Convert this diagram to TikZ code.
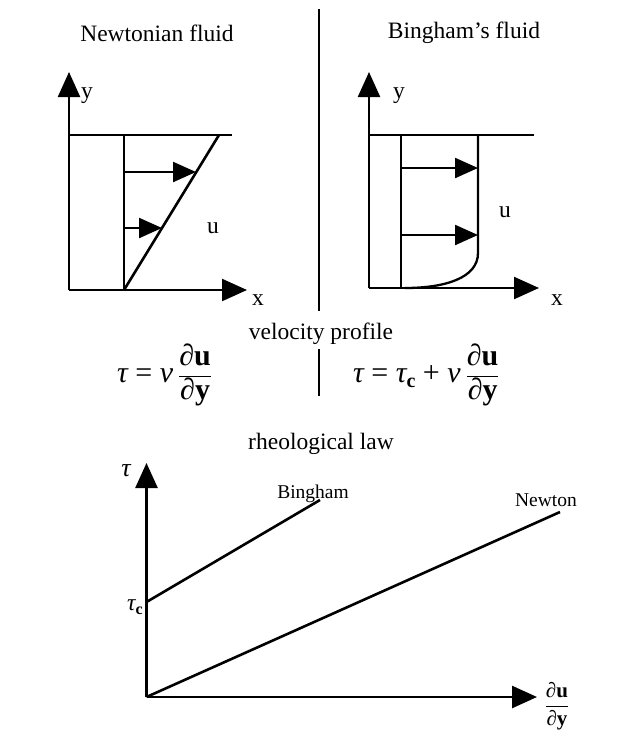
\documentclass[tikz,border=0pt]{standalone}
\usepackage{fontspec}
\setmainfont{Liberation Serif}
\usetikzlibrary{arrows.meta}
\newcommand\myfrac[2]{$\displaystyle\frac{\mbox{#1}}{\mbox{#2}}$}
\begin{document}
\begin{tikzpicture}[x=1pt,y=-1pt,
  ln/.style={line width=2.3pt},
  thk/.style={line width=2.6pt},
  bigtip/.style={-{Triangle[length=25pt,width=22pt]}},
  smalltip/.style={-{Triangle[length=23pt,width=20pt]}},
  lbl/.style={font=\fontsize{23.5}{28}\selectfont, inner sep=0pt},
  small/.style={font=\fontsize{19.5}{23}\selectfont, inner sep=0pt},
  eq/.style={font=\fontsize{30}{34}\selectfont, inner sep=0pt, anchor=base west}]
\useasboundingbox (0,0) rectangle (624,742);

% separator
\coordinate (s1) at (319,9);
\coordinate (s2) at (319,311);
\coordinate (s3) at (319,349);
\coordinate (s4) at (319,396);
\draw[ln] (s1) -- (s2);
\draw[ln] (s3) -- (s4);

% titles
\node[lbl] (tN) at (157,33) {Newtonian fluid};
\node[lbl] (tB) at (464,33) {Bingham's fluid};

% ---- Newtonian panel
\coordinate (NO) at (69,290);
\coordinate (NYt) at (69,72);
\coordinate (NXt) at (247,290);
\coordinate (NTl) at (69,135);
\coordinate (NTr) at (232,135);
\coordinate (NIb) at (124,290);
\coordinate (NIt) at (124,135);
\coordinate (NDt) at (219,135);
\coordinate (NA1s) at (124,172);
\coordinate (NA1e) at (196,172);
\coordinate (NA2s) at (124,228);
\coordinate (NA2e) at (162,228);
\draw[ln,bigtip] (NO) -- (NYt);
\draw[ln,bigtip] (NO) -- (NXt);
\draw[ln] (NTl) -- (NTr);
\draw[ln] (NIb) -- (NIt);
\draw[thk] (NIb) -- (NDt);
\draw[ln,smalltip] (NA1s) -- (NA1e);
\draw[ln,smalltip] (NA2s) -- (NA2e);
\node[lbl] (Ny) at (87,96) {y};
\node[lbl] (Nx) at (258,300) {x};
\node[lbl] (Nu) at (213,228) {u};

% ---- Bingham panel
\coordinate (BO) at (369,288);
\coordinate (BYt) at (369,72);
\coordinate (BXt) at (539,288);
\coordinate (BTl) at (369,135);
\coordinate (BTr) at (534,135);
\coordinate (BIb) at (401,288);
\coordinate (BIt) at (401,135);
\coordinate (BPt) at (478,135);
\coordinate (BPm) at (478,253);
\coordinate (BPb) at (405,288);
\coordinate (BA1s) at (401,168);
\coordinate (BA1e) at (478,168);
\coordinate (BA2s) at (401,235);
\coordinate (BA2e) at (478,235);
\draw[ln,bigtip] (BO) -- (BYt);
\draw[ln,bigtip] (BO) -- (BXt);
\draw[ln] (BTl) -- (BTr);
\draw[ln] (BIb) -- (BIt);
\draw[ln] (BPt) -- (BPm) .. controls (478,278) and (445,288) .. (BPb);
\draw[ln,smalltip] (BA1s) -- (BA1e);
\draw[ln,smalltip] (BA2s) -- (BA2e);
\node[lbl] (By) at (399,96) {y};
\node[lbl] (Bx) at (557,300) {x};
\node[lbl] (Bu) at (505,212) {u};

% ---- captions and laws
\node[lbl] (vp) at (321,334) {velocity profile};
\node[eq] (f1) at (117,382) {\itshape τ\upshape\ = \itshape ν\upshape\,\myfrac{∂\textbf{u}}{∂\textbf{y}}};
\node[eq] (f2) at (353,382) {\itshape τ\upshape\ = \itshape τ\upshape\raisebox{-5pt}{\fontsize{20}{22}\selectfont\bfseries c}\ + \itshape ν\upshape\,\myfrac{∂\textbf{u}}{∂\textbf{y}}};
\node[lbl] (rl) at (321,444) {rheological law};

% ---- rheological chart
\coordinate (RO) at (146.5,697);
\coordinate (RYt) at (146.5,463);
\coordinate (RXt) at (537,697);
\coordinate (Rc) at (146.5,602);
\coordinate (RBe) at (320,500);
\coordinate (RNe) at (560,512);
\draw[thk,bigtip] (RO) -- (RYt);
\draw[thk,bigtip] (RO) -- (RXt);
\draw[thk] (Rc) -- (RBe);
\draw[thk] (RO) -- (RNe);
\node[small] (lB) at (313,494) {Bingham};
\node[small] (lN) at (546,500) {Newton};
\node[lbl,font=\fontsize{26}{30}\selectfont\itshape] (lt) at (126,471) {τ};
\node[lbl] (ltc) at (135,607) {\itshape τ\upshape\raisebox{-4pt}{\fontsize{16}{18}\selectfont\bfseries c}};
\node[small,font=\fontsize{21}{25}\selectfont] (ldu) at (557,706) {\myfrac{∂\textbf{u}}{∂\textbf{y}}};
\end{tikzpicture}
\end{document}
